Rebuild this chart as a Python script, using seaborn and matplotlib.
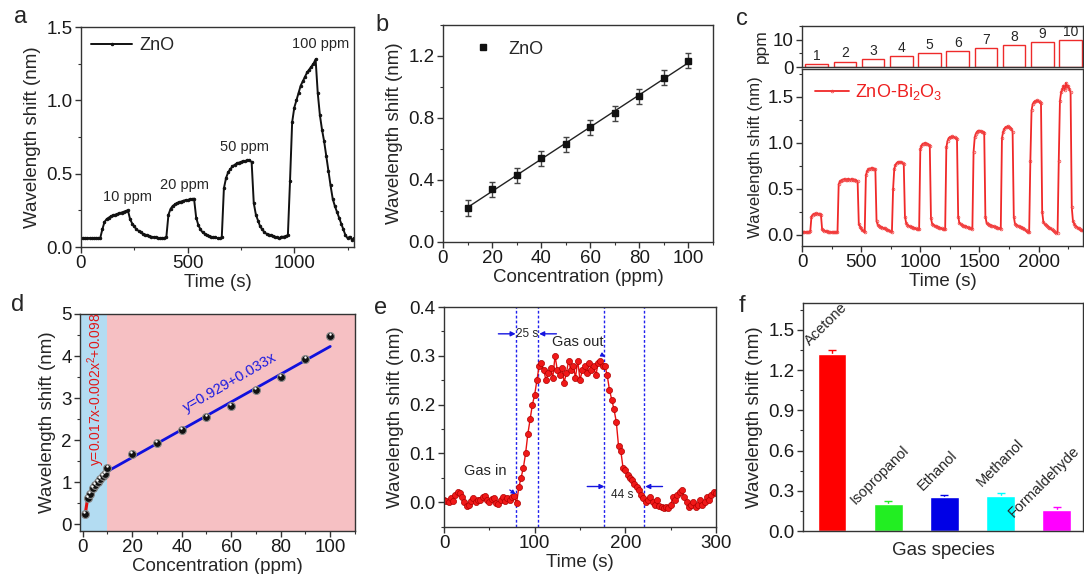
import numpy as np
import pandas as pd
import matplotlib
matplotlib.use("Agg")
import matplotlib.pyplot as plt
import seaborn as sns
from matplotlib.ticker import MultipleLocator
from matplotlib.lines import Line2D

# ---------------- data ----------------
# (a) ZnO response, sampled every 10 s from 0 s
a_step = 10
a_shift = [0.06, 0.062, 0.058, 0.06, 0.061, 0.059, 0.06, 0.062, 0.06, 0.06,
           0.12, 0.17, 0.19, 0.20, 0.21, 0.215, 0.22, 0.225, 0.23, 0.235, 0.24, 0.245, 0.25,
           0.19, 0.16, 0.14, 0.12, 0.11, 0.10, 0.09, 0.085, 0.08, 0.075, 0.07, 0.068, 0.065, 0.062, 0.06, 0.06, 0.062, 0.065,
           0.22, 0.26, 0.28, 0.29, 0.30, 0.305, 0.31, 0.315, 0.32, 0.32, 0.325, 0.325, 0.33,
           0.20, 0.15, 0.12, 0.10, 0.09, 0.08, 0.075, 0.07, 0.065, 0.065, 0.06, 0.06, 0.065,
           0.40, 0.47, 0.51, 0.53, 0.55, 0.56, 0.57, 0.575, 0.58, 0.585, 0.585, 0.59, 0.59, 0.58,
           0.30, 0.22, 0.18, 0.14, 0.12, 0.10, 0.09, 0.085, 0.08, 0.075, 0.07, 0.065, 0.06, 0.07, 0.07, 0.075, 0.08,
           0.45, 0.85, 0.95, 1.00, 1.05, 1.10, 1.13, 1.16, 1.19, 1.21, 1.23, 1.25, 1.28,
           1.05, 0.90, 0.80, 0.72, 0.62, 0.52, 0.42, 0.33, 0.28, 0.24, 0.20, 0.16, 0.12, 0.08, 0.06, 0.07, 0.05, 0.06]
a_ppm_labels = ["10 ppm", "20 ppm", "50 ppm", "100 ppm"]

# (b) ZnO calibration
b_conc = [10, 20, 30, 40, 50, 60, 70, 80, 90, 100]
b_shift = [0.22, 0.34, 0.43, 0.54, 0.63, 0.74, 0.83, 0.94, 1.06, 1.17]
b_err = [0.05, 0.05, 0.05, 0.05, 0.05, 0.05, 0.05, 0.05, 0.05, 0.05]

# (c) ZnO-Bi2O3 response, sampled every 10 s from 0 s
c_step = 10
c_shift = [0.03, 0.03, 0.035, 0.03, 0.03, 0.035, 0.03, 0.04,
           0.20, 0.22, 0.23, 0.23, 0.235, 0.23, 0.23, 0.23, 0.22,
           0.06, 0.05, 0.045, 0.04, 0.04, 0.035, 0.035, 0.03, 0.03, 0.03, 0.03, 0.03, 0.03, 0.03,
           0.55, 0.58, 0.59, 0.60, 0.60, 0.61, 0.60, 0.60, 0.61, 0.60, 0.60, 0.61, 0.60, 0.60, 0.60, 0.59, 0.58,
           0.12, 0.09, 0.07, 0.05, 0.04, 0.03,
           0.65, 0.69, 0.71, 0.72, 0.72, 0.73, 0.72, 0.72, 0.71,
           0.15, 0.11, 0.10, 0.09, 0.085, 0.08, 0.075, 0.07, 0.06, 0.055, 0.05, 0.045, 0.04, 0.035,
           0.50, 0.72, 0.76, 0.78, 0.79, 0.79, 0.79, 0.79, 0.78, 0.77,
           0.20, 0.13, 0.11, 0.10, 0.095, 0.09, 0.085, 0.08, 0.075, 0.07, 0.065, 0.06, 0.06,
           0.93, 0.97, 0.99, 0.99, 1.00, 0.99, 0.99, 0.98, 0.97,
           0.18, 0.12, 0.11, 0.10, 0.095, 0.09, 0.085, 0.08, 0.075, 0.07, 0.065, 0.06, 0.06,
           0.95, 1.02, 1.05, 1.06, 1.06, 1.07, 1.06, 1.06, 1.05, 1.04,
           0.20, 0.13, 0.12, 0.11, 0.10, 0.10, 0.095, 0.09, 0.085, 0.08, 0.075, 0.07, 0.065,
           0.90, 1.06, 1.10, 1.12, 1.13, 1.13, 1.13, 1.12, 1.12, 1.11,
           0.20, 0.13, 0.12, 0.11, 0.11, 0.10, 0.10, 0.095, 0.09, 0.085, 0.08, 0.075, 0.07, 0.065,
           1.05, 1.12, 1.15, 1.17, 1.17, 1.18, 1.17, 1.16, 1.15, 1.12,
           0.20, 0.12, 0.11, 0.10, 0.10, 0.09, 0.085, 0.08, 0.07, 0.06, 0.05, 0.04, 0.03, 0.03,
           0.80, 1.35, 1.42, 1.44, 1.45, 1.45, 1.46, 1.45, 1.44, 1.43,
           0.25, 0.14, 0.12, 0.11, 0.10, 0.09, 0.08, 0.07, 0.06, 0.05, 0.04, 0.03, 0.02, 0.02,
           0.80, 1.45, 1.55, 1.58, 1.62, 1.57, 1.65, 1.60, 1.62, 1.58, 1.55,
           0.30, 0.15, 0.12, 0.10, 0.09, 0.08, 0.07, 0.06, 0.05, 0.05, 0.04]
c_ppm = [1, 2, 3, 4, 5, 6, 7, 8, 9, 10]
c_dose_time = [121, 362, 602, 841, 1078, 1316, 1557, 1794, 2033, 2270]

# (d) ZnO-Bi2O3 calibration
d_conc_low = [1, 2, 3, 4, 5, 6, 7, 8, 9, 10]
d_shift_low = [0.24, 0.62, 0.71, 0.86, 0.94, 1.00, 1.07, 1.14, 1.20, 1.33]
d_conc_high = [20, 30, 40, 50, 60, 70, 80, 90, 100]
d_shift_high = [1.67, 1.93, 2.25, 2.55, 2.82, 3.20, 3.50, 3.93, 4.48]
d_lin_coef = [0.929, 0.033]

# (e) single response, sampled every 2.5 s from 0 s
e_step = 2.5
e_shift = [0.005, 0.003, 0.0, 0.008, 0.002, 0.015, 0.02, 0.018, 0.01, 0.0, -0.008, -0.005, 0.002, 0.008, 0.0, 0.005,
           0.004, 0.01, 0.012, 0.005, 0.0, 0.006, 0.008, -0.002, -0.004, 0.005, 0.01, 0.003, 0.008, 0.005, 0.01, 0.012,
           -0.002, 0.03, 0.05, 0.07, 0.10, 0.14, 0.17, 0.20, 0.22, 0.25, 0.28,
           0.285, 0.27, 0.25, 0.265, 0.275, 0.255, 0.30, 0.27, 0.26, 0.275, 0.245, 0.265, 0.29, 0.27,
           0.28, 0.255, 0.29, 0.25, 0.27, 0.28, 0.265, 0.285, 0.27, 0.28, 0.26, 0.285, 0.29, 0.28,
           0.28, 0.26, 0.23, 0.21, 0.19, 0.165, 0.115, 0.105, 0.07, 0.065, 0.055, 0.05, 0.045, 0.038, 0.03, 0.025, 0.015, 0.008,
           0.0, 0.005, 0.01, 0.0, -0.005, 0.005, -0.008, -0.01, -0.012, -0.01, -0.013, -0.005, 0.01, 0.005, 0.015, 0.02,
           0.025, 0.01, 0.0, -0.01, -0.005, 0.0, -0.01, -0.005, 0.005, -0.005, 0.0, 0.01, 0.005, 0.015, 0.02, 0.018]
e_marks = [79, 104, 177, 221]

# (f) selectivity
f_gases = ["Acetone", "Isopropanol", "Ethanol", "Methanol", "Formaldehyde"]
f_shift = [1.32, 0.20, 0.25, 0.26, 0.16]
f_err = [0.03, 0.02, 0.02, 0.02, 0.02]
f_colors = ["#ff0000", "#22ee22", "#0000e6", "#00ffff", "#ff00ff"]

# ---------------- style ----------------
sns.set_theme(style="ticks")
plt.rcParams["font.family"] = ["Liberation Sans", "DejaVu Sans"]
plt.rcParams["mathtext.fontset"] = "custom"
plt.rcParams["mathtext.rm"] = "Liberation Sans"
plt.rcParams["mathtext.it"] = "Liberation Sans"
FS = 13.5

fig = plt.figure(figsize=(10.84, 5.74), dpi=100)
fig.patch.set_facecolor("white")


def rect(l, t, r, b):
    W, H = 1084.0, 574.0
    return [l / W, 1 - b / H, (r - l) / W, (b - t) / H]


def style(ax):
    for s in ax.spines.values():
        s.set_linewidth(1.0)
        s.set_color("#333333")
        s.set_visible(True)
    ax.tick_params(which="major", direction="out", length=4, width=1, labelsize=FS,
                   color="#333333", labelcolor="#1a1a1a", top=False, right=False, pad=2)
    ax.tick_params(which="minor", direction="out", length=2.5, width=0.8, color="#333333",
                   top=False, right=False)
    ax.set_facecolor("white")


# ---------------- (a) ----------------
ax = fig.add_axes(rect(81, 27, 354, 247))
ta = np.arange(len(a_shift)) * a_step
sns.lineplot(x=ta, y=a_shift, ax=ax, color="#111111", linewidth=1.4, marker=".",
             markersize=3.5, markeredgecolor="#111111", label="ZnO")
ax.set_xlim(0, 1280)
ax.set_ylim(0, 1.5)
ax.xaxis.set_major_locator(MultipleLocator(500))
ax.xaxis.set_minor_locator(MultipleLocator(250))
ax.yaxis.set_major_locator(MultipleLocator(0.5))
ax.yaxis.set_minor_locator(MultipleLocator(0.25))
ax.set_xlabel("Time (s)", fontsize=FS, labelpad=1)
ax.set_ylabel("Wavelength shift (nm)", fontsize=FS, labelpad=4)
for txt, tx, ty in zip(a_ppm_labels, [218, 487, 767, 1124], [0.338, 0.424, 0.685, 1.383]):
    ax.text(tx, ty, txt, fontsize=10.5, ha="center", va="center")
ax.legend(loc="center left", bbox_to_anchor=(0.01, 0.914), frameon=False, fontsize=13,
          handlelength=2.3, borderaxespad=0, handletextpad=0.4)
style(ax)

# ---------------- (b) ----------------
ax = fig.add_axes(rect(443, 25, 713, 242))
sns.regplot(x=b_conc, y=b_shift, ax=ax, ci=None, scatter=False,
            line_kws=dict(color="#222222", lw=1.0))
ax.errorbar(b_conc, b_shift, yerr=b_err, fmt="s", color="#111111", ms=4.5,
            ecolor="#444444", elinewidth=1, capsize=2.5, capthick=1, label="ZnO")
ax.set_xlim(0, 110)
ax.set_ylim(0, 1.4)
ax.xaxis.set_major_locator(MultipleLocator(20))
ax.xaxis.set_minor_locator(MultipleLocator(10))
ax.yaxis.set_major_locator(MultipleLocator(0.4))
ax.yaxis.set_minor_locator(MultipleLocator(0.2))
ax.set_xlabel("Concentration (ppm)", fontsize=FS, labelpad=1)
ax.set_ylabel("Wavelength shift (nm)", fontsize=FS, labelpad=4)
ax.legend([Line2D([], [], marker="s", ls="none", color="#111111", ms=4.5)], ["ZnO"],
          loc="center left", bbox_to_anchor=(0.08, 0.889), frameon=False, fontsize=13,
          handlelength=1.2, borderaxespad=0, handletextpad=0.8)
style(ax)

# ---------------- (c) ----------------
axt = fig.add_axes(rect(802, 26, 1083, 67))
axt.bar(c_dose_time, c_ppm, width=190, facecolor="white", edgecolor="#ee2a2a", linewidth=1.0)
for t, p in zip(c_dose_time, c_ppm):
    axt.text(t, p + 0.4, str(p), fontsize=10, ha="center", va="bottom")
axt.set_xlim(0, 2375)
axt.set_ylim(0, 15)
axt.set_yticks([0, 10])
axt.yaxis.set_minor_locator(MultipleLocator(5))
axt.set_xticks([])
axt.set_ylabel("ppm", fontsize=12.5, labelpad=3)
style(axt)

ax = fig.add_axes(rect(802, 69, 1083, 246))
tc = np.arange(len(c_shift)) * c_step
sns.lineplot(x=tc, y=c_shift, ax=ax, color="#f02828", linewidth=1.3, marker="o",
             markersize=2.0, markerfacecolor="none", markeredgecolor="#f24040",
             markeredgewidth=0.5, label="ZnO-Bi$_2$O$_3$")
ax.set_xlim(0, 2375)
ax.set_ylim(-0.12, 1.8)
ax.xaxis.set_major_locator(MultipleLocator(500))
ax.xaxis.set_minor_locator(MultipleLocator(250))
ax.yaxis.set_major_locator(MultipleLocator(0.5))
ax.yaxis.set_minor_locator(MultipleLocator(0.25))
ax.set_xlabel("Time (s)", fontsize=FS, labelpad=1)
ax.set_ylabel("Wavelength shift (nm)", fontsize=12, labelpad=3)
leg = ax.legend(loc="center left", bbox_to_anchor=(0.02, 0.87), frameon=False, fontsize=13,
                handlelength=1.9, borderaxespad=0, handletextpad=0.3)
for tx in leg.get_texts():
    tx.set_color("#ee2020")
style(ax)

# ---------------- (d) ----------------
ax = fig.add_axes(rect(80, 314, 355, 531))
ax.axvspan(-1.1, 10, color="#b3dcf2", zorder=0, lw=0)
ax.axvspan(10, 110, color="#f6c0c3", zorder=0, lw=0)
xs = np.array([10, 100])
ax.plot(xs, d_lin_coef[0] + d_lin_coef[1] * xs, color="#1010dd", lw=2, zorder=2)
ax.plot(d_conc_low, d_shift_low, color="#e01010", lw=2.2, zorder=2)
dfd = pd.DataFrame({"c": d_conc_low + d_conc_high, "s": d_shift_low + d_shift_high})
sns.scatterplot(data=dfd, x="c", y="s", ax=ax, color="#111111", edgecolor="#888888",
                linewidth=0.8, s=32, zorder=3)
ax.scatter(np.array(dfd["c"]) - 0.3, np.array(dfd["s"]) + 0.05, s=3, color="white", zorder=4, lw=0)
ax.set_xlim(-1.1, 110)
ax.set_ylim(-0.16, 5)
ax.xaxis.set_major_locator(MultipleLocator(20))
ax.xaxis.set_minor_locator(MultipleLocator(10))
ax.yaxis.set_major_locator(MultipleLocator(1))
ax.yaxis.set_minor_locator(MultipleLocator(0.5))
ax.set_xlabel("Concentration (ppm)", fontsize=FS, labelpad=1)
ax.set_ylabel("Wavelength shift (nm)", fontsize=FS, labelpad=4)
ax.text(5.6, 3.2, "y=0.017x-0.002x$^2$+0.098", color="#e01818", fontsize=10,
        rotation=90, ha="center", va="center")
ax.text(59.5, 3.38, "y=0.929+0.033x", color="#1a1ae0", fontsize=10.5,
        rotation=30, ha="center", va="center")
style(ax)

# ---------------- (e) ----------------
ax = fig.add_axes(rect(444, 307, 716, 527))
te = np.arange(len(e_shift)) * e_step
sns.lineplot(x=te, y=e_shift, ax=ax, color="#e81010", linewidth=1.0, marker="o",
             markersize=4.4, markerfacecolor="#f01818", markeredgecolor="#b00000",
             markeredgewidth=0.5)
for xm in e_marks:
    ax.axvline(xm, color="#2020ee", ls=(0, (2, 1.5)), lw=1.0, zorder=1)
blue = "#1515e0"
arr = dict(arrowstyle="-|>", color=blue, lw=1.0, mutation_scale=7, shrinkA=0, shrinkB=0)
ax.annotate("", xy=(e_marks[0], 0.345), xytext=(60, 0.345), arrowprops=arr)
ax.annotate("", xy=(e_marks[1] + 1, 0.345), xytext=(124, 0.345), arrowprops=arr)
ax.text(92, 0.345, "25 s", fontsize=8.5, ha="center", va="center")
ax.annotate("", xy=(e_marks[2], 0.032), xytext=(158, 0.032), arrowprops=arr)
ax.annotate("", xy=(e_marks[3] + 1, 0.032), xytext=(241, 0.032), arrowprops=arr)
ax.text(197, 0.015, "44 s", fontsize=8.5, ha="center", va="center")
ax.annotate("Gas out", xy=(178, 0.298), xytext=(147, 0.329), fontsize=10.5, ha="center",
            va="center", arrowprops=dict(arrowstyle="-|>", color=blue, lw=0.9,
                                         mutation_scale=6, shrinkA=6, shrinkB=0))
ax.annotate("Gas in", xy=(79, 0.016), xytext=(45, 0.063), fontsize=10.5, ha="center",
            va="center", arrowprops=dict(arrowstyle="-|>", color=blue, lw=0.9,
                                         mutation_scale=6, shrinkA=10, shrinkB=0))
ax.set_xlim(0, 300)
ax.set_ylim(-0.051, 0.4)
ax.xaxis.set_major_locator(MultipleLocator(100))
ax.xaxis.set_minor_locator(MultipleLocator(50))
ax.yaxis.set_major_locator(MultipleLocator(0.1))
ax.yaxis.set_minor_locator(MultipleLocator(0.05))
ax.set_xlabel("Time (s)", fontsize=FS, labelpad=1)
ax.set_ylabel("Wavelength shift (nm)", fontsize=FS, labelpad=4)
style(ax)

# ---------------- (f) ----------------
ax = fig.add_axes(rect(803, 303, 1083, 531))
for i, (v, e, c) in enumerate(zip(f_shift, f_err, f_colors)):
    ax.errorbar(i, v, yerr=e, color=c, capsize=3, elinewidth=1, capthick=1, zorder=0.5, fmt="none")
sns.barplot(x=f_gases, y=f_shift, hue=f_gases, palette=f_colors, legend=False, ax=ax,
            width=0.51, saturation=1, errorbar=None, zorder=1)
# label anchors (lower-left of rotated text), as placed in the original figure
f_label_anchor = [(-0.36, 1.36), (0.45, 0.18), (1.66, 0.28), (2.70, 0.31), (3.28, 0.08)]
for g, (lx, ly) in zip(f_gases, f_label_anchor):
    ax.text(lx, ly, g, fontsize=10.5, rotation=45, rotation_mode="anchor",
            ha="left", va="bottom")
ax.set_xlim(-0.52, 4.47)
ax.set_ylim(0, 1.7)
ax.yaxis.set_major_locator(MultipleLocator(0.3))
ax.yaxis.set_minor_locator(MultipleLocator(0.15))
ax.set_xticks([])
ax.set_xlabel("Gas species", fontsize=FS, labelpad=8)
ax.set_ylabel("Wavelength shift (nm)", fontsize=FS, labelpad=4)
style(ax)
ax.tick_params(axis="x", which="both", bottom=False)

# panel letters
for letter, px, py in [("a", 21, 17), ("b", 382, 25), ("c", 742, 19),
                       ("d", 18, 305), ("e", 381, 308), ("f", 742, 306)]:
    fig.text(px / 1084, 1 - py / 574, letter, fontsize=17, ha="center", va="center")

fig.savefig("out.png", dpi=100, facecolor="white")
